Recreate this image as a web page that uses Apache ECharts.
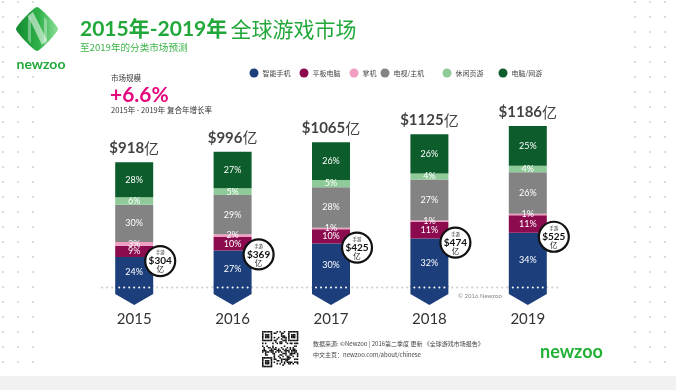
<!DOCTYPE html>
<html><head><meta charset="utf-8">
<script src="https://cdn.jsdelivr.net/npm/echarts@6/dist/echarts.min.js"></script>
<style>html,body{margin:0;padding:0;background:#fff}#c{width:676px;height:390px}</style>
</head><body><div id="c"></div>
<script>
const years = ['2015','2016','2017','2018','2019'];
const totals = [918, 996, 1065, 1125, 1186];
const segmentNames = ['智能手机','平板电脑','掌机','电视/主机','休闲页游','电脑/网游'];
const smartphonePct = [24,27,30,32,34];
const tabletPct = [9,10,10,11,11];
const handheldPct = [3,2,1,1,1];
const tvConsolePct = [30,29,28,27,26];
const casualWebPct = [6,5,5,4,4];
const pcMmoPct = [28,27,26,26,25];
const mobileRevenue = [304,369,425,474,525];
const colors = ['#1c3f7c','#8c0b4f','#f19ec2','#838383','#8ecb98','#0d5c2c'];

const pctSets = [smartphonePct, tabletPct, handheldPct, tvConsolePct, casualWebPct, pcMmoPct];
const pctSum = years.map((_, i) => pctSets.reduce((s, a) => s + a[i], 0));
const segValues = pctSets.map(a => a.map((p, i) => totals[i] * p / pctSum[i]));

const GREEN = '#22a83a';
const FONT = 'Lato, "Noto Sans CJK SC", sans-serif';
const CJK = '"Noto Sans CJK SC", Lato, sans-serif';

const chart = echarts.init(document.getElementById('c'), null, {renderer: 'canvas'});

const barSeries = segmentNames.map((name, si) => ({
  name, type: 'bar', stack: 'total', barWidth: 38, z: 3,
  itemStyle: {color: colors[si]},
  data: segValues[si],
  label: {
    show: true, position: 'inside', color: '#fff', fontSize: 9, fontFamily: FONT,
    formatter: p => pctSets[si][p.dataIndex] + '%'
  }
}));

// background dots, decorations
const graphics = [];
graphics.push({type: 'rect', shape: {x: 0, y: 376, width: 676, height: 14}, style: {fill: '#f1f1f1'}, z: -10});
[3, 18, 33, 635, 650, 665].forEach(cx => {
  for (let r = 0; r < 25; r++) {
    graphics.push({type: 'circle', shape: {cx, cy: 2 + r * 15, r: 1}, style: {fill: '#d0d0d0'}, z: -9});
  }
});
// logo
graphics.push({type: 'polygon', shape: {points: [[37, 7], [58, 29], [37, 51], [16, 29]], smooth: 0.15},
  style: {fill: new echarts.graphic.LinearGradient(0, 0, 1, 0, [{offset: 0, color: '#128a30'}, {offset: 0.55, color: '#2fb24a'}, {offset: 1, color: '#8fe09a'}])}, z: 5});
graphics.push({type: 'polygon', shape: {points: [[28, 16], [33, 12], [47, 40], [42, 45]]}, style: {fill: 'rgba(255,255,255,0.55)'}, z: 6});
graphics.push({type: 'polygon', shape: {points: [[28, 16], [31, 18], [31, 44], [28, 40]]}, style: {fill: 'rgba(255,255,255,0.35)'}, z: 6});
graphics.push({type: 'polygon', shape: {points: [[44, 17], [47, 20], [47, 42], [44, 45]]}, style: {fill: 'rgba(255,255,255,0.35)'}, z: 6});
graphics.push({type: 'rect', shape: {x: 14, y: 56, width: 54, height: 15}, style: {fill: '#fff'}, z: 5});
graphics.push({type: 'text', x: 41, y: 64, z: 6, style: {text: 'newzoo', fill: GREEN, fontSize: 14, fontWeight: 'bold', fontFamily: FONT, align: 'center', verticalAlign: 'middle'}});
// title
graphics.push({type: 'text', x: 80, y: 29, style: {
  text: '{b|2015年-2019年} {n|全球游戏市场}', verticalAlign: 'middle', align: 'left',
  rich: {b: {fontSize: 21, fontWeight: 'bold', fill: GREEN, fontFamily: FONT},
         n: {fontSize: 21, fontWeight: 'normal', fill: GREEN, fontFamily: CJK}}
}});
graphics.push({type: 'text', x: 80, y: 47, style: {text: '至2019年的分类市场预测', fill: '#3cb44a', fontSize: 9.6, fontFamily: CJK, verticalAlign: 'middle'}});
// CAGR block
graphics.push({type: 'text', x: 111, y: 78, style: {text: '市场规模', fill: '#333', fontSize: 7.5, fontFamily: CJK, verticalAlign: 'middle'}});
graphics.push({type: 'text', x: 110, y: 95, style: {text: '+6.6%', fill: '#e5097f', fontSize: 21, fontWeight: 'bold', fontFamily: FONT, verticalAlign: 'middle'}});
graphics.push({type: 'text', x: 111, y: 110, style: {text: '2015年 - 2019年 复合年增长率', fill: '#333', fontSize: 7.5, fontFamily: CJK, verticalAlign: 'middle'}});
// copyright
graphics.push({type: 'text', x: 458, y: 296, style: {text: '© 2016 Newzoo', fill: '#888', fontSize: 6, fontFamily: FONT, verticalAlign: 'middle'}});
// footer
graphics.push({type: 'text', x: 313, y: 344, style: {text: '数据来源: ©Newzoo | 2016第二季度 更新 《全球游戏市场报告》', fill: '#444', fontSize: 6, fontFamily: CJK, verticalAlign: 'middle'}});
graphics.push({type: 'text', x: 313, y: 355, style: {text: '中文主页：newzoo.com/about/chinese', fill: '#444', fontSize: 6, fontFamily: CJK, verticalAlign: 'middle'}});
graphics.push({type: 'text', x: 540, y: 352, style: {text: 'newzoo', fill: '#22b036', fontSize: 18, fontWeight: 'bold', fontFamily: FONT, verticalAlign: 'middle'}});
// QR-like decoration
(function () {
  const n = 25, m = 1.45, ox = 262, oy = 331;
  const finder = (r, c) => {
    const inF = (r0, c0) => r >= r0 && r < r0 + 7 && c >= c0 && c < c0 + 7;
    const ring = (r0, c0) => { const rr = r - r0, cc = c - c0; return (rr === 0 || rr === 6 || cc === 0 || cc === 6) || (rr >= 2 && rr <= 4 && cc >= 2 && cc <= 4); };
    if (inF(0, 0)) return ring(0, 0) ? 1 : 0;
    if (inF(0, n - 7)) return ring(0, n - 7) ? 1 : 0;
    if (inF(n - 7, 0)) return ring(n - 7, 0) ? 1 : 0;
    if ((r === 7 && (c < 8 || c >= n - 8)) || (c === 7 && (r < 8 || r >= n - 8)) || (r === n - 8 && c < 8) || (c === n - 8 && r < 8)) return 0;
    return -1;
  };
  for (let r = 0; r < n; r++) for (let c = 0; c < n; c++) {
    let v = finder(r, c);
    if (v === -1) v = (((r * 7 + c * 13 + r * c * 3) ^ (r * 5)) % 5) < 2 ? 1 : 0;
    if (v) graphics.push({type: 'rect', shape: {x: ox + c * m, y: oy + r * m, width: m + 0.1, height: m + 0.1}, style: {fill: '#111'}});
  }
})();

const legendX = [254, 304, 354, 385, 447, 503];
const legends = segmentNames.map((name, i) => ({
  data: [name], left: legendX[i] - 4.5, top: 68.5, padding: 0,
  icon: 'circle', itemWidth: 9, itemHeight: 9, itemGap: 0,
  textStyle: {fontSize: 7, color: '#444', fontFamily: CJK, padding: [0, 0, 0, -1]},
  selectedMode: false
}));

const option = {
  animation: false,
  backgroundColor: '#fff',
  legend: legends,
  grid: {left: 85, right: 99, top: 124, bottom: 103},
  xAxis: {
    type: 'category', data: years,
    axisLine: {show: false}, axisTick: {show: false},
    axisLabel: {margin: 25, fontSize: 15, color: '#333', fontFamily: FONT}
  },
  yAxis: {type: 'value', min: 0, max: 1200, show: false, splitLine: {show: false}},
  graphic: {elements: graphics},
  series: [
    {
      type: 'custom', z: 1, silent: true,
      data: [[0, 0]],
      renderItem: function (params, api) {
        const a = api.coord([0, 0]);
        const b = api.coord([years.length - 1, 0]);
        const children = [];
        for (let x = a[0] - 32; x <= b[0] + 34; x += 5) {
          children.push({type: 'circle', shape: {cx: x, cy: a[1] + 0.5, r: 1}, style: {fill: '#c9c9c9'}});
        }
        return {type: 'group', children};
      }
    },
    ...barSeries,
    {
      type: 'custom', z: 4, silent: true,
      data: years.map((_, i) => [i, 0]),
      renderItem: function (params, api) {
        const p = api.coord([api.value(0), 0]);
        const x = p[0], y = p[1], hw = 19;
        const children = [{type: 'polygon', shape: {points: [[x - hw, y - 1], [x + hw, y - 1], [x + hw, y + 7], [x, y + 18], [x - hw, y + 7]]}, style: {fill: colors[0]}}];
        for (let k = 0; k < 7; k++) children.push({type: 'circle', shape: {cx: x - 15 + k * 5, cy: y + 0.5, r: 1}, style: {fill: '#fff'}});
        return {type: 'group', children};
      }
    },
    {
      type: 'scatter', z: 5, symbolSize: 1, itemStyle: {color: 'rgba(0,0,0,0)'},
      data: totals,
      label: {show: true, position: 'top', distance: 6, color: '#111', fontFamily: FONT,
        formatter: p => '{d|$' + totals[p.dataIndex] + '}{y|亿}',
        rich: {d: {fontSize: 15, fontWeight: 'bold', fontFamily: FONT, color: '#111'},
               y: {fontSize: 15, fontFamily: CJK, color: '#111'}}}
    },
    {
      type: 'custom', z: 6, silent: true,
      data: years.map((_, i) => [i, segValues[0][i], mobileRevenue[i]]),
      renderItem: function (params, api) {
        const p = api.coord([api.value(0), api.value(1)]);
        const cx = p[0] + 26, cy = p[1] + 4;
        return {type: 'group', children: [
          {type: 'circle', shape: {cx, cy, r: 15}, style: {fill: '#fff', stroke: '#111', lineWidth: 2.2}},
          {type: 'text', x: cx, y: cy - 8.5, style: {text: '手游', fontSize: 4.5, fill: '#222', fontFamily: CJK, align: 'center', verticalAlign: 'middle'}},
          {type: 'text', x: cx, y: cy, style: {text: '$' + api.value(2), fontSize: 10, fontWeight: 'bold', fill: '#111', fontFamily: FONT, align: 'center', verticalAlign: 'middle'}},
          {type: 'text', x: cx, y: cy + 8.5, style: {text: '亿', fontSize: 7.5, fill: '#222', fontFamily: CJK, align: 'center', verticalAlign: 'middle'}}
        ]};
      }
    }
  ]
};
chart.setOption(option);
</script>
</body></html>
